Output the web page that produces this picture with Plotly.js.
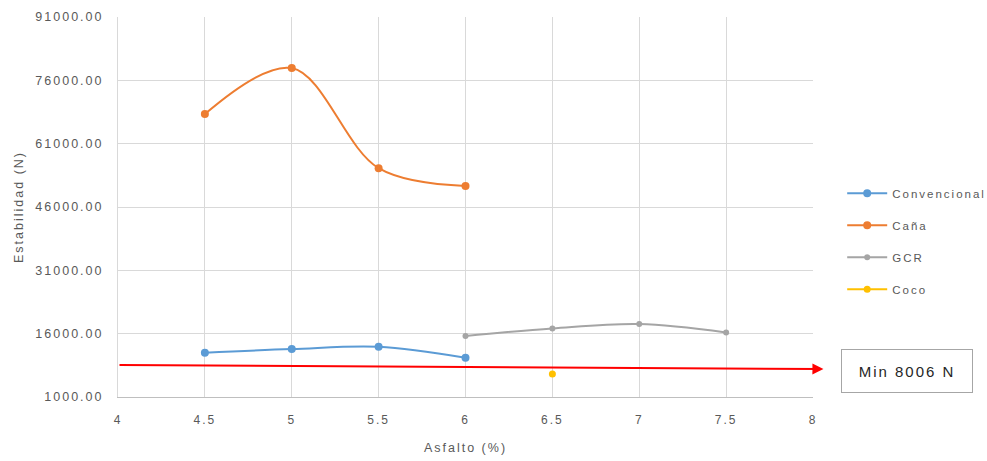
<!DOCTYPE html>
<html>
<head>
<meta charset="utf-8">
<script src="https://cdn.plot.ly/plotly-3.0.1.min.js"></script>
<style>
html,body{margin:0;padding:0;background:#fff;}
#chart{width:987px;height:461px;}
#chart .ytick text, #chart .xtick text, #chart .legendtext,
#chart .xtitle, #chart .ytitle, #chart .annotation-text {letter-spacing:2px;}
#chart .legend .scrollbox {clip-path:none !important;}
</style>
</head>
<body>
<div id="chart"></div>
<script>
// Data
var asfaltoConv = [4.5, 5, 5.5, 6];
var convencional = [11500, 12350, 12900, 10300];

var asfaltoCana = [4.5, 5, 5.5, 6];
var cana = [68000, 78900, 55200, 51000];

var asfaltoGCR = [6, 6.5, 7, 7.5];
var gcr = [15450, 17250, 18300, 16300];

var asfaltoCoco = [6.5];
var coco = [6450];

// Minimum stability reference arrow (drawn slightly sloped in the original)
var minLabel = "Min 8006 N";
var minArrowX = [4, 8.06];
var minArrowY = [8580, 7630];

var yTicks = [1000, 16000, 31000, 46000, 61000, 76000, 91000];
var xTicks = [4, 4.5, 5, 5.5, 6, 6.5, 7, 7.5, 8];

var fam = "Liberation Sans, Arial, sans-serif";
var tickFont = {family: fam, size: 12, color: "#595959"};

var traces = [
  {x: asfaltoConv, y: convencional, name: "Convencional", mode: "lines+markers", legendgroup: "a",
   line: {color: "#5B9BD5", width: 2, shape: "spline"}, marker: {color: "#5B9BD5", size: 8}},
  {x: asfaltoCana, y: cana, name: "Caña", mode: "lines+markers", legendgroup: "b",
   line: {color: "#ED7D31", width: 2, shape: "spline"}, marker: {color: "#ED7D31", size: 8}},
  {x: asfaltoGCR, y: gcr, name: "GCR", mode: "lines+markers", legendgroup: "c",
   line: {color: "#A5A5A5", width: 2, shape: "spline"}, marker: {color: "#A5A5A5", size: 6}},
  {x: asfaltoCoco, y: coco, name: "Coco", mode: "lines+markers", legendgroup: "d",
   line: {color: "#FFC000", width: 2, shape: "spline"}, marker: {color: "#FFC000", size: 7}}
];

var layout = {
  width: 987, height: 461,
  margin: {l: 118, r: 174, t: 17, b: 64},
  paper_bgcolor: "#fff", plot_bgcolor: "#fff",
  font: tickFont,
  showlegend: true,
  legend: {
    x: 1.042, xanchor: "left", y: 0.41, yanchor: "middle",
    traceorder: "grouped", tracegroupgap: 13, itemwidth: 40,
    font: {family: fam, size: 11.5, color: "#595959"},
    bgcolor: "rgba(0,0,0,0)"
  },
  xaxis: {
    range: [4, 8], tickvals: xTicks, ticktext: xTicks.map(String),
    showgrid: true, gridcolor: "#d9d9d9", gridwidth: 1,
    showline: true, linecolor: "#bfbfbf", linewidth: 1, mirror: false,
    zeroline: false, ticks: "", tickfont: tickFont, ticklabelstandoff: 12,
    title: {text: "Asfalto (%)", font: {family: fam, size: 12.5, color: "#595959"}, standoff: 16}
  },
  yaxis: {
    range: [1000, 91000], tickvals: yTicks, tickformat: ".2f",
    showgrid: true, gridcolor: "#d9d9d9", gridwidth: 1,
    showline: true, linecolor: "#d9d9d9", linewidth: 1,
    zeroline: false, ticks: "", tickfont: {family: fam, size: 12.5, color: "#595959"}, ticklabelstandoff: 11,
    title: {text: "Estabilidad (N)", font: {family: fam, size: 12.5, color: "#595959"}, standoff: 24}
  },
  annotations: [
    {x: minArrowX[1], y: minArrowY[1], xref: "x", yref: "y",
     ax: minArrowX[0], ay: minArrowY[0], axref: "x", ayref: "y",
     showarrow: true, arrowhead: 2, arrowsize: 1.1, arrowwidth: 2, arrowcolor: "#FF0000",
     text: ""},
    {x: 1.135, y: 0.068, xref: "paper", yref: "paper", xanchor: "center", yanchor: "middle",
     text: minLabel, showarrow: false,
     font: {family: fam, size: 15, color: "#262626"},
     bordercolor: "#a6a6a6", borderwidth: 1, borderpad: 10, width: 110, height: 22, bgcolor: "#fff"}
  ]
};

Plotly.newPlot("chart", traces, layout, {displayModeBar: false, staticPlot: true});
</script>
</body>
</html>
